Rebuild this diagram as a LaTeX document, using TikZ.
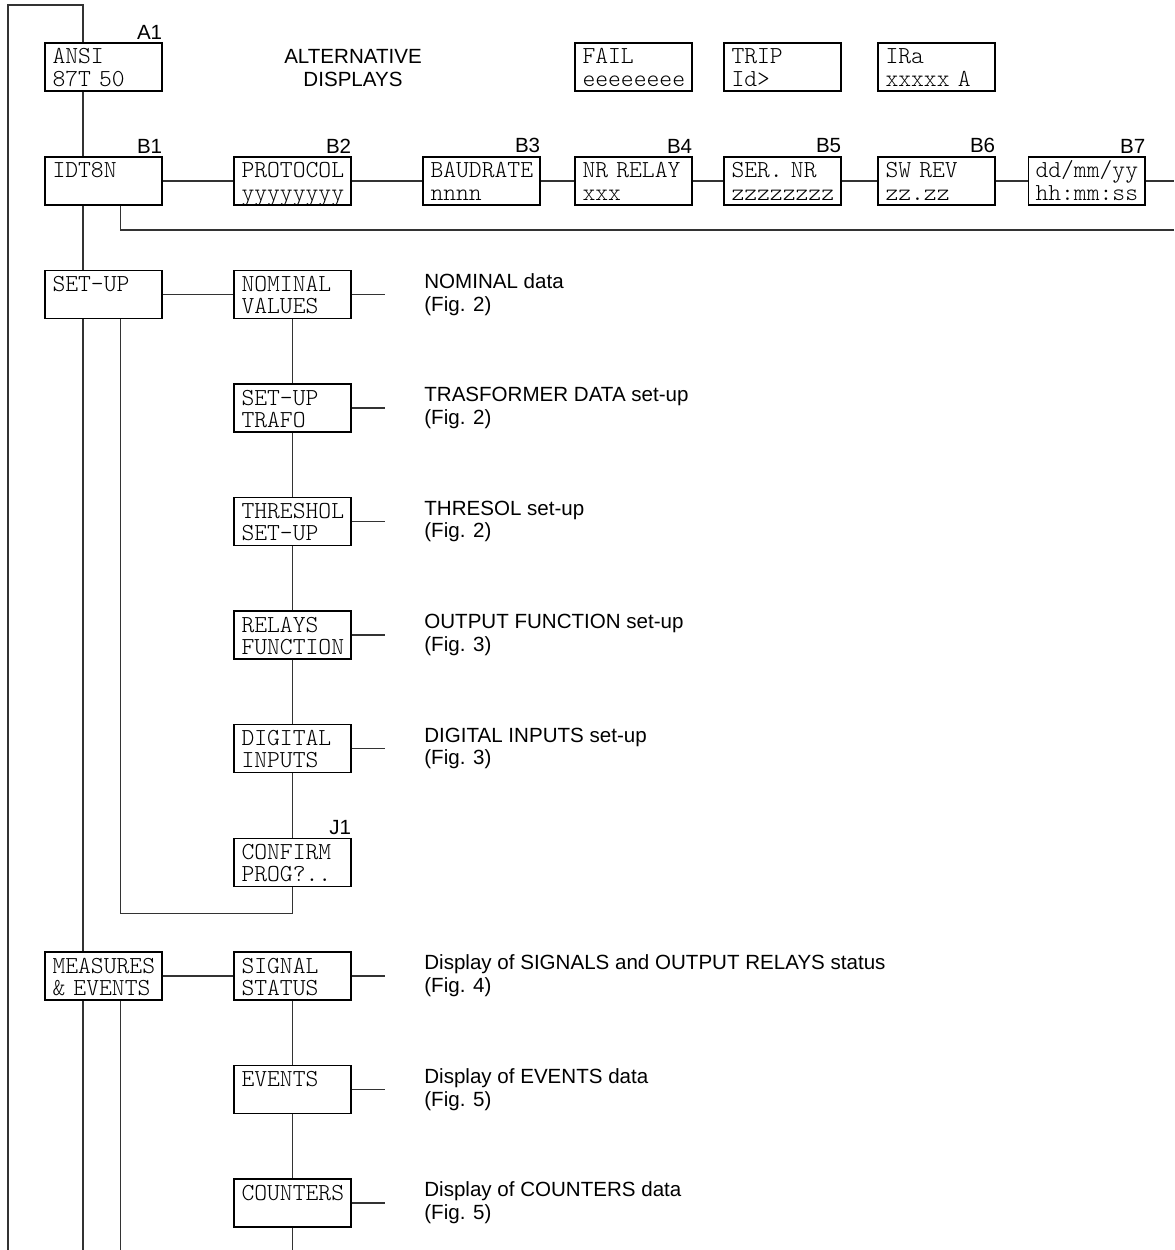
\documentclass[tikz,border=0pt]{standalone}
\usepackage{fontspec}
\setmainfont{Liberation Sans}
\setmonofont{Latin Modern Mono Light}
\usetikzlibrary{positioning,calc}

\tikzset{
  disp/.style={draw, line width=0.6pt, minimum width=2.34cm, inner xsep=0.15cm, inner ysep=0pt,
    text width=2.04cm, align=left, text height=0.42cm, text depth=0.54cm,
    font=\fontsize{13.9}{12.8}\selectfont\ttfamily},
  lbl/.style={label={[font=\fontsize{11.7}{13}\selectfont, anchor=south east, inner sep=0pt,
    yshift=0.06cm]north east:#1}},
  note/.style={anchor=west, align=left, inner sep=0pt, font=\fontsize{11.7}{13}\selectfont},
  conn/.style={draw=black!80, line width=0.6pt}
}

\begin{document}
\begin{tikzpicture}[x=0.02cm, y=-0.02cm]
  \useasboundingbox (0,0) rectangle (1174,1250);

  % alternative displays
  \node[disp, lbl=A1] (a1)   at (103.5,67) {ANSI\\87T 50};
  \node[align=center, font=\fontsize{11.7}{13}\selectfont] (alt) at (353,68) {ALTERNATIVE\\DISPLAYS};
  \node[disp] (fail) at (633.5,67) {FAIL\\eeeeeeee};
  \node[disp] (trip) at (782.5,67) {TRIP\\Id>};
  \node[disp] (ira)  at (936.5,67) {IRa\\xxxxx A};

  % B row
  \node[disp, lbl=B1] (b1) at (103.5,181) {IDT8N\\~};
  \node[disp, lbl=B2] (b2) at (292.5,181) {PROTOCOL\\yyyyyyyy};
  \node[disp, lbl=B3] (b3) at (481.5,181) {BAUDRATE\\nnnn};
  \node[disp, lbl=B4] (b4) at (633.5,181) {NR RELAY\\xxx};
  \node[disp, lbl=B5] (b5) at (782.5,181) {SER. NR\\zzzzzzzz};
  \node[disp, lbl=B6] (b6) at (936.5,181) {SW REV\\zz.zz};
  \node[disp, lbl=B7] (b7) at (1086.5,181) {dd/mm/yy\\hh:mm:ss};

  % set-up menu
  \node[disp] (set)   at (103.5,294.5) {SET-UP\\~};
  \node[disp] (nom)   at (292.5,294.5) {NOMINAL\\VALUES};
  \node[disp] (trafo) at (292.5,408)   {SET-UP\\TRAFO};
  \node[disp] (thr)   at (292.5,521.5) {THRESHOL\\SET-UP};
  \node[disp] (rel)   at (292.5,635)   {RELAYS\\FUNCTION};
  \node[disp] (dig)   at (292.5,748.5) {DIGITAL\\INPUTS};
  \node[disp, lbl=J1] (conf) at (292.5,862.5) {CONFIRM\\PROG?..};

  % measures menu
  \node[disp] (mea) at (103.5,976)  {MEASURES\\\& EVENTS};
  \node[disp] (sig) at (292.5,976)  {SIGNAL\\STATUS};
  \node[disp] (ev)  at (292.5,1089.5) {EVENTS\\~};
  \node[disp] (cnt) at (292.5,1203) {COUNTERS\\~};

  % descriptions
  \node[note] (tnom)   at (424,294.5) {NOMINAL data\\(Fig. 2)};
  \node[note] (ttrafo) at (424,408)   {TRASFORMER DATA set-up\\(Fig. 2)};
  \node[note] (tthr)   at (424,521.5) {THRESOL set-up\\(Fig. 2)};
  \node[note] (trel)   at (424,635)   {OUTPUT FUNCTION set-up\\(Fig. 3)};
  \node[note] (tdig)   at (424,748.5) {DIGITAL INPUTS set-up\\(Fig. 3)};
  \node[note] (tsig)   at (424,976)   {Display of SIGNALS and OUTPUT RELAYS status\\(Fig. 4)};
  \node[note] (tev)    at (424,1089.5) {Display of EVENTS data\\(Fig. 5)};
  \node[note] (tcnt)   at (424,1203)  {Display of COUNTERS data\\(Fig. 5)};

  % frame and main line
  \coordinate (bl) at (8,1250);
  \coordinate (tl) at (8,5);
  \coordinate (tr) at (83,5);
  \draw[conn] (bl) -- (tl) -- (tr) -- (tr |- a1.north);
  \draw[conn] (tr |- a1.south) -- (tr |- b1.north);
  \draw[conn] (tr |- b1.south) -- (tr |- set.north);
  \draw[conn] (tr |- set.south) -- (tr |- mea.north);
  \draw[conn] (tr |- mea.south) -- (tr |- bl);

  % B row links
  \coordinate (r0) at (1174,181);
  \coordinate (r1) at (1174,230);
  \draw[conn] (b1) -- (b2);
  \draw[conn] (b2) -- (b3);
  \draw[conn] (b3) -- (b4);
  \draw[conn] (b4) -- (b5);
  \draw[conn] (b5) -- (b6);
  \draw[conn] (b6) -- (b7);
  \draw[conn] (b7) -- (r0);
  \draw[conn] ([xshift=0.34cm]b1.south) |- (r1);

  % set-up links
  \draw[conn] (set) -- (nom);
  \draw[conn] (nom) -- (trafo);
  \draw[conn] (trafo) -- (thr);
  \draw[conn] (thr) -- (rel);
  \draw[conn] (rel) -- (dig);
  \draw[conn] (dig) -- (conf);
  \draw[conn] ([xshift=0.34cm]set.south) |- ([yshift=-0.52cm]conf.south) -- (conf.south);

  % measures links
  \draw[conn] (mea) -- (sig);
  \draw[conn] (sig) -- (ev);
  \draw[conn] (ev) -- (cnt);
  \draw[conn] (cnt.south) -- (cnt.south |- bl);
  \draw[conn] ([xshift=0.34cm]mea.south) -- ([xshift=0.34cm]mea.south |- bl);

  % stubs to descriptions
  \draw[conn] (nom)   -- ([xshift=-0.78cm]tnom.west);
  \draw[conn] (trafo) -- ([xshift=-0.78cm]ttrafo.west);
  \draw[conn] (thr)   -- ([xshift=-0.78cm]tthr.west);
  \draw[conn] (rel)   -- ([xshift=-0.78cm]trel.west);
  \draw[conn] (dig)   -- ([xshift=-0.78cm]tdig.west);
  \draw[conn] (sig)   -- ([xshift=-0.78cm]tsig.west);
  \draw[conn] (ev)    -- ([xshift=-0.78cm]tev.west);
  \draw[conn] (cnt)   -- ([xshift=-0.78cm]tcnt.west);
\end{tikzpicture}
\end{document}
